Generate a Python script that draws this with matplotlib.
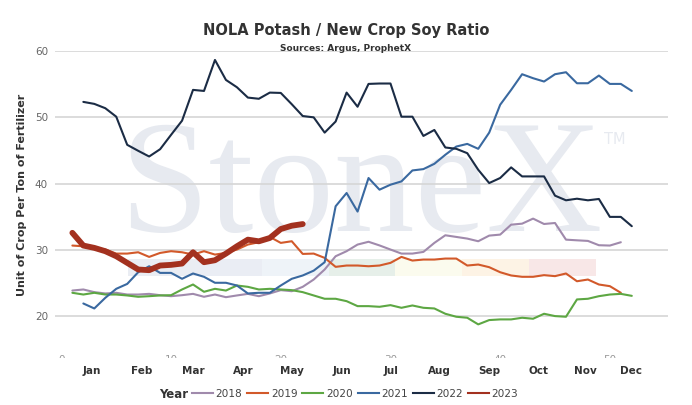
import matplotlib
matplotlib.use("Agg")
import matplotlib.pyplot as plt
from matplotlib.patches import Rectangle
from matplotlib.lines import Line2D

# ---------------- data ----------------
weeks_18 = list(range(1, 52))
v2018 = [23.9, 24.06, 23.66, 23.46, 23.56, 23.3, 23.3, 23.4, 23.2, 23.05, 23.2, 23.4, 22.96, 23.3, 22.9,
         23.16, 23.4, 23.05, 23.46, 23.96, 23.8, 24.46, 25.56, 27.07, 29.07, 29.83, 30.83, 31.25, 30.7, 30.08,
         29.47, 29.47, 29.72, 31.08, 32.23, 31.98, 31.73, 31.33, 32.18, 32.33, 33.83, 33.98, 34.74, 33.93, 34.08,
         31.57, 31.47, 31.38, 30.73, 30.68, 31.18]
weeks_19 = list(range(1, 52))
v2019 = [30.68, 30.57, 30.33, 30.08, 29.47, 29.47, 29.67, 28.97, 29.57, 29.83, 29.67, 29.32, 29.83, 29.32, 29.57,
         30.08, 30.83, 31.18, 31.98, 31.08, 31.33, 29.42, 29.47, 28.82, 27.47, 27.67, 27.67, 27.56, 27.67, 28.07,
         28.97, 28.42, 28.57, 28.57, 28.72, 28.72, 27.67, 27.82, 27.42, 26.66, 26.17, 25.97, 25.97, 26.22, 26.07,
         26.47, 25.3, 25.56, 24.81, 24.56, 23.56]
weeks_20 = list(range(1, 53))
v2020 = [23.56, 23.3, 23.56, 23.3, 23.3, 23.16, 22.96, 23.05, 23.16, 23.2, 24.06, 24.81, 23.71, 24.16, 23.9,
         24.66, 24.46, 24.06, 24.16, 24.06, 23.96, 23.66, 23.16, 22.66, 22.66, 22.3, 21.55, 21.55, 21.45, 21.7,
         21.3, 21.65, 21.3, 21.2, 20.4, 19.95, 19.8, 18.8, 19.45, 19.55, 19.55, 19.8, 19.65, 20.4, 20.05,
         19.95, 22.56, 22.66, 23.05, 23.3, 23.4, 23.1]
weeks_21 = list(range(2, 53))
v2021 = [21.95, 21.2, 22.8, 24.16, 24.9, 26.66, 27.56, 26.56, 26.56, 25.67, 26.47, 25.97, 25.07, 25.07, 24.66,
         23.46, 23.56, 23.56, 24.66, 25.67, 26.17, 26.9, 28.17, 36.6, 38.6, 35.8, 40.86, 39.1, 39.85, 40.35,
         42.0, 42.2, 43.0, 44.36, 45.6, 46.0, 45.26, 47.7, 51.9, 54.14, 56.5, 55.9, 55.4, 56.5, 56.8,
         55.14, 55.14, 56.3, 55.04, 55.04, 53.98]
weeks_22 = list(range(2, 53))
v2022 = [52.33, 52.03, 51.38, 50.1, 45.86, 44.96, 44.1, 45.2, 47.37, 49.5, 54.14, 53.98, 58.65, 55.64, 54.54,
         52.98, 52.8, 53.73, 53.68, 51.98, 50.2, 50.0, 47.7, 49.37, 53.73, 51.6, 55.04, 55.1, 55.1, 50.1,
         50.1, 47.2, 48.1, 45.46, 45.26, 44.6, 42.1, 40.1, 40.86, 42.46, 41.1, 41.1, 41.1, 38.2, 37.5,
         37.74, 37.5, 37.7, 35.0, 35.0, 33.6]
weeks_23 = list(range(1, 23))
v2023 = [32.6, 30.68, 30.33, 29.83, 29.07, 28.07, 27.07, 26.97, 27.67, 27.77, 27.97, 29.67, 28.17, 28.47, 29.47,
         30.57, 31.57, 31.32, 31.82, 33.17, 33.67, 33.92]

series_labels = ["2018", "2019", "2020", "2021", "2022", "2023"]
series_weeks = [weeks_18, weeks_19, weeks_20, weeks_21, weeks_22, weeks_23]
series_vals = [v2018, v2019, v2020, v2021, v2022, v2023]
colors = ["#a08aac", "#d2592a", "#5da743", "#3a69a0", "#1b2c45", "#a3311f"]
widths = [1.5, 1.5, 1.5, 1.5, 1.5, 4.2]

months = ["Jan", "Feb", "Mar", "Apr", "May", "Jun", "Jul", "Aug", "Sep", "Oct", "Nov", "Dec"]
month_pos = [2.79, 7.34, 12.0, 16.55, 21.02, 25.58, 30.04, 34.5, 38.97, 43.53, 47.81, 51.92]
week_ticks = [0, 10, 20, 30, 40, 50]
yticks = [20, 30, 40, 50, 60]

band_colors = ["#eaedf3", "#eaedf4", "#eef3f8", "#e6efe9", "#fbfbee", "#fdf3e5", "#f8e7e7"]

# ---------------- figure ----------------
fig = plt.figure(figsize=(6.92, 4.05), dpi=100)
XLIM = (-0.583, 55.30)
ax = fig.add_axes([55/692, 1-349.6/405, 613/692, (349.6-51)/405])
ax.set_xlim(*XLIM)
ax.set_ylim(15, 60)
for s in ax.spines.values():
    s.set_visible(False)

ax.set_yticks(yticks)
ax.set_yticklabels([str(t) for t in yticks], color="#666666", fontsize=7.5)
ax.tick_params(axis="y", length=0, pad=5)
ax.yaxis.grid(True, color="#d6d6d6", linewidth=1.2, zorder=1)
ax.set_axisbelow(True)

ax.set_xticks(month_pos)
ax.set_xticklabels(months, fontsize=7.5, fontweight="bold", color="#333333")
ax.tick_params(axis="x", length=0, pad=12)

# clipped week-number fragments beneath the plot (only their tops show)
ax_w = fig.add_axes([55/692, 1-357.5/405, 613/692, 2.5/405])
ax_w.set_xlim(*XLIM)
ax_w.set_ylim(0, 1)
ax_w.axis("off")
for w in week_ticks:
    t = ax_w.text(w, 1.0, str(w), ha="center", va="top", fontsize=7.5, color="#999999")
    t.set_clip_box(ax_w.bbox)
    t.set_clip_on(True)

# watermark
ax.text(360.5/692, 1-231/405, "StoneX", transform=fig.transFigure, ha="center", va="baseline",
        fontsize=116, family="Liberation Serif", color="#e7eaf0", zorder=0.1)
ax.text(615/692, 1-140/405, "TM", transform=fig.transFigure, ha="center", va="center",
        fontsize=10.5, color="#e7eaf0", zorder=0.1)
seg = (48.7 - 6.1) / len(band_colors)
for i, c in enumerate(band_colors):
    ax.add_patch(Rectangle((6.1 + i*seg, 26.06), seg, 2.64, facecolor=c, edgecolor="none", zorder=0.2))

handles = []
for lab, wk, vals, c, lw in zip(series_labels, series_weeks, series_vals, colors, widths):
    ax.plot(wk, vals, color=c, linewidth=lw, solid_joinstyle="round", solid_capstyle="round",
            zorder=3, label=lab)
    handles.append(Line2D([0], [0], color=c, linewidth=1.5))

fig.text(0.5, 1-31/405, "NOLA Potash / New Crop Soy Ratio", ha="center", va="center",
         fontsize=10.5, fontweight="bold", color="#333333")
fig.text(0.5, 1-48.5/405, "Sources: Argus, ProphetX", ha="center", va="center",
         fontsize=6.5, fontweight="bold", color="#333333", zorder=5)
fig.text(22/692, 1-194.5/405, "Unit of Crop Per Ton of Fertilizer", rotation=90, ha="center", va="center",
         fontsize=8, fontweight="bold", color="#333333")

fig.text(188/692, 1-394/405, "Year", ha="right", va="center", fontsize=8.5, fontweight="bold", color="#333333")
fig.legend(handles, series_labels, loc="center left", bbox_to_anchor=(192/692, 1-394/405), ncol=6,
           frameon=False, fontsize=7.6, handlelength=2.0, handletextpad=0.25, columnspacing=0.45,
           borderpad=0, borderaxespad=0, labelcolor="#444444")

fig.savefig("out.png", dpi=100)
